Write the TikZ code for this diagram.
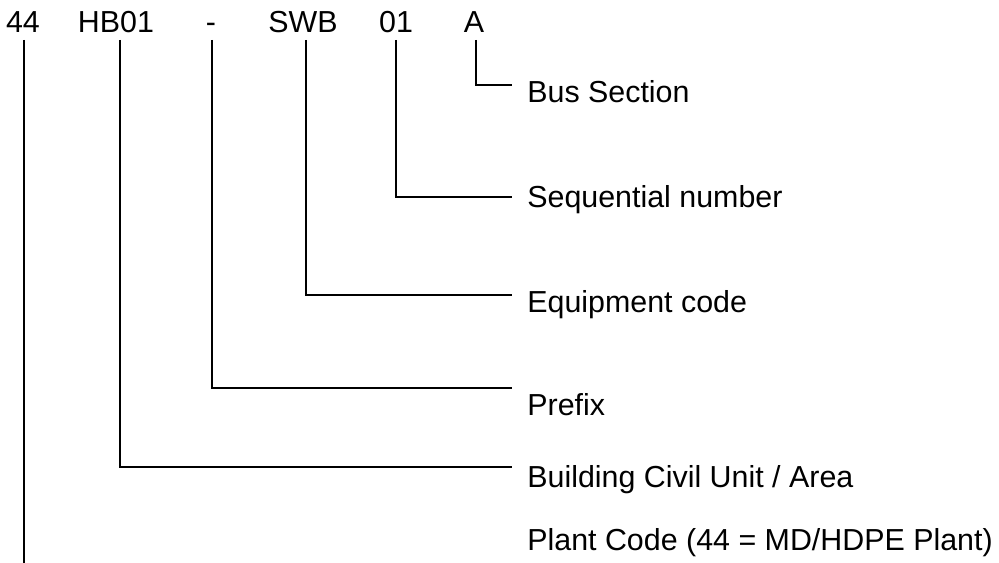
\documentclass[tikz,border=0pt]{standalone}
\usepackage{fontspec}
\setmainfont{Liberation Sans}
\usetikzlibrary{positioning,calc}
\tikzset{
  part/.style={anchor=base, inner sep=0pt, font=\fontsize{17.3}{21}\selectfont},
  desc/.style={anchor=base west, inner sep=0pt, font=\fontsize{17.3}{21}\selectfont},
  leader/.style={draw=black, line width=0.04cm}
}

\begin{document}
\begin{tikzpicture}[x=0.02cm, y=-0.02cm]
    \useasboundingbox (0,0) rectangle (999,563);

    % parts of the tag
    \node[part] (p44) at (23,33) {44};
    \node[part] (hb) at (116,33) {HB01};
    \node[part] (dash) at (211,33) {-};
    \node[part] (swb) at (303,33) {SWB};
    \node[part] (num) at (396,33) {01};
    \node[part] (sec) at (474,33) {A};

    % descriptions
    \node[desc] (busSec) at (527,103) {Bus Section};
    \node[desc] (seqNum) at (527,208) {Sequential number};
    \node[desc] (equip) at (527,313) {Equipment code};
    \node[desc] (prefix) at (527,415) {Prefix};
    \node[desc] (bldg) at (527,487) {Building Civil Unit / Area};
    \node[desc] (plant) at (527,550) {Plant Code (44 = MD/HDPE Plant)};

    \coordinate (busEnd) at (512,85);
    \coordinate (seqEnd) at (512,197);
    \coordinate (equipEnd) at (512,295);
    \coordinate (prefixEnd) at (512,388);
    \coordinate (bldgEnd) at (512,467);
    \coordinate (plantEnd) at (24,563);

    \draw[leader] ($(sec.base)+(2,7)$) |- (busEnd);
    \draw[leader] ($(num.base)+(0,7)$) |- (seqEnd);
    \draw[leader] ($(swb.base)+(3,7)$) |- (equipEnd);
    \draw[leader] ($(dash.base)+(1,7)$) |- (prefixEnd);
    \draw[leader] ($(hb.base)+(4,7)$) |- (bldgEnd);
    \draw[leader] ($(p44.base)+(1,7)$) -- (plantEnd);

\end{tikzpicture}
\end{document}
